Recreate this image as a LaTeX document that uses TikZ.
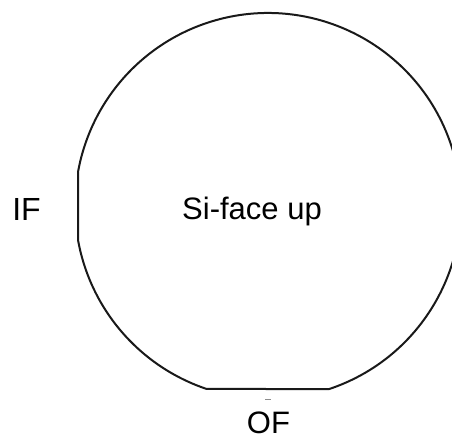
\documentclass[tikz,border=0pt]{standalone}
\usepackage{fontspec}
\setmainfont{Liberation Sans}
\tikzset{
  wafer/.style={draw=black!90, line width=2pt, line join=round},
  lbl/.style={anchor=base, inner sep=0pt, font=\fontsize{31}{32}\selectfont},
  biglbl/.style={anchor=base, inner sep=0pt, font=\fontsize{32}{33}\selectfont},
  tick/.style={draw=black!45, line width=0.8pt}
}
\begin{document}
\begin{tikzpicture}[x=1pt,y=1pt]
\useasboundingbox (0,0) rectangle (452,439);
\clip (0,0) rectangle (452,439);
\coordinate (C) at (268,233);
\draw[wafer] (C) ++(288.51:193) arc[start angle=288.51, end angle=529.88, radius=193]
  -- ++(0,-67.8) arc[start angle=190.12, end angle=251.49, radius=193] -- cycle;
\node[biglbl] (if) at (26.5,218) {IF};
\node[lbl] (si) at (252,219) {Si-face up};
\node[lbl] (of) at (268.5,5.5) {OF};
\coordinate (m1) at (265,40);
\coordinate (m2) at (271,40);
\draw[tick] (m1) -- (m2);
\end{tikzpicture}
\end{document}
